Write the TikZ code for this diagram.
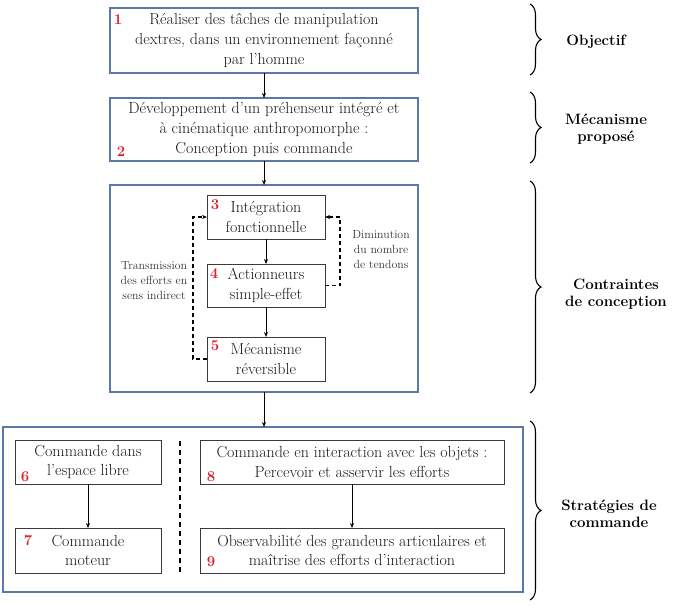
\documentclass[tikz,border=0pt]{standalone}
\usepackage{fontspec}
\usetikzlibrary{arrows.meta,decorations.pathreplacing,calc}
\definecolor{frameblue}{HTML}{5B78A8}
\definecolor{boxgray}{HTML}{3A3A3A}
\definecolor{numred}{HTML}{E0202A}
\begin{document}
\begin{tikzpicture}[x=1pt,y=-1pt,
  every node/.style={inner sep=0pt,outer sep=0pt},
  bluebox/.style={draw=frameblue,line width=1.2pt,align=center,text=black!90,font=\fontsize{16}{20}\selectfont},
  graybox/.style={draw=boxgray,line width=1pt,align=center,text=black!90,font=\fontsize{16}{19.5}\selectfont},
  frame/.style={draw=frameblue,line width=1.2pt},
  num/.style={text=numred,font=\bfseries\fontsize{15}{16}\selectfont},
  conn/.style={line width=0.9pt,-{Stealth[length=5pt,width=4pt]}},
  dconn/.style={line width=1.2pt,dash pattern=on 4pt off 3pt,-{Stealth[length=5pt,width=4pt]}},
  small/.style={align=center,font=\fontsize{11.8}{15}\selectfont,text=black!80},
  side/.style={align=center,font=\bfseries\fontsize{15}{17.5}\selectfont},
  brace/.style={decorate,decoration={brace,amplitude=11pt},line width=1.1pt}
]
\useasboundingbox (0,0) rectangle (676,605);

% top boxes
\node[bluebox,minimum width=308,minimum height=65] (b1) at (264,40.5)
  {R\'ealiser des t\^aches de manipulation\\dextres, dans un environnement fa\c{c}onn\'e\\par l'homme};
\node[bluebox,minimum width=308,minimum height=63] (b2) at (264,129.5)
  {D\'eveloppement d'un pr\'ehenseur int\'egr\'e et\\\`a cin\'ematique anthropomorphe :\\Conception puis commande};

% container 3
\node[frame,minimum width=308,minimum height=207] (c3) at (264,288.5) {};
\node[graybox,minimum width=118,minimum height=44] (b3) at (266,217) {Int\'egration\\fonctionnelle};
\node[graybox,minimum width=118,minimum height=43] (b4) at (266,285.5) {Actionneurs\\simple-effet};
\node[graybox,minimum width=118,minimum height=44] (b5) at (266,359) {M\'ecanisme\\r\'eversible};

% container 4
\node[frame,minimum width=520,minimum height=165] (c4) at (263,509.5) {};
\node[graybox,minimum width=146,minimum height=44] (b6) at (88,462) {Commande dans\\l'espace libre};
\node[graybox,minimum width=146,minimum height=45] (b7) at (88,550.5) {Commande\\moteur};
\node[graybox,minimum width=304,minimum height=44] (b8) at (352,462) {Commande en interaction avec les objets :\\Percevoir et asservir les efforts};
\node[graybox,minimum width=304,minimum height=45] (b9) at (352,550.5) {Observabilit\'e des grandeurs articulaires et\\ma\^itrise des efforts d'interaction};

% numbers
\node[num] (n1) at (118,20) {1};
\node[num] (n2) at (121,152) {2};
\node[num] (n3) at (215,205) {3};
\node[num] (n4) at (214,274) {4};
\node[num] (n5) at (215,346) {5};
\node[num] (n6) at (25,477) {6};
\node[num] (n7) at (28,541) {7};
\node[num] (n8) at (211,477) {8};
\node[num] (n9) at (211,562) {9};

% solid connectors
\draw[conn] (b1.south) -- (b2.north);
\draw[conn] (b2.south) -- (c3.north);
\draw[conn] (b3) -- (b4);
\draw[conn] (b4) -- (b5);
\draw[conn] (c3.south) -- (c3.south |- c4.north);
\draw[conn] (b6) -- (b7);
\draw[conn] (b8) -- (b9);

% dashed feedback
\draw[dconn] (b5.west) -- ++(-14,0) |- (b3.west);
\draw[dconn] (b4.east) -- ++(15,0) |- (b3.east);
\coordinate (dtop) at (180,441);
\coordinate (dbot) at (180,572);
\draw[line width=1.2pt,dash pattern=on 5pt off 4pt] (dtop) -- (dbot);

\node[small] (lt) at (154,281) {Transmission\\des efforts en\\sens indirect};
\node[small] (ld) at (381,250) {Diminution\\du nombre\\de tendons};

% braces
\draw[brace] (530,4) -- (530,75);
\draw[brace] (530,92) -- (530,163);
\draw[brace] (530,181) -- (530,393);
\draw[brace] (530,421) -- (530,600);

\node[side] (s1) at (596,42) {Objectif};
\node[side] (s2) at (606,129) {M\'ecanisme\\propos\'e};
\node[side] (s3) at (616,294) {Contraintes\\de conception};
\node[side] (s4) at (609,514) {Strat\'egies de\\commande};
\end{tikzpicture}
\end{document}
